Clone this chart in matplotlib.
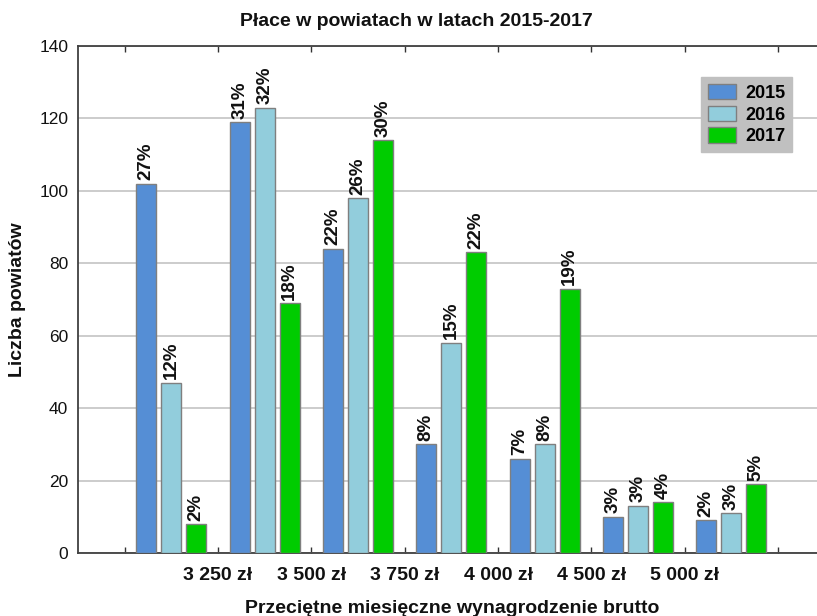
import matplotlib
matplotlib.use("Agg")
import matplotlib.pyplot as plt
import numpy as np

plt.rcParams['font.family'] = ['Liberation Sans', 'DejaVu Sans']

title = "Płace w powiatach w latach 2015-2017"
xlabel = "Przeciętne miesięczne wynagrodzenie brutto"
ylabel = "Liczba powiatów"
years = ["2015", "2016", "2017"]
tick_labels = ["", "3 250 zł", "3 500 zł", "3 750 zł", "4 000 zł", "4 500 zł", "5 000 zł", ""]
v2015 = [102, 119, 84, 30, 26, 10, 9]
v2016 = [47, 123, 98, 58, 30, 13, 11]
v2017 = [8, 69, 114, 83, 73, 14, 19]
p2015 = ["27%", "31%", "22%", "8%", "7%", "3%", "2%"]
p2016 = ["12%", "32%", "26%", "15%", "8%", "3%", "3%"]
p2017 = ["2%", "18%", "30%", "22%", "19%", "4%", "5%"]
colors = ["#558ED5", "#92CDDC", "#00CC00"]

W, H = 817, 616
fig = plt.figure(figsize=(W / 100, H / 100), dpi=100)
ax = fig.add_axes([78 / W, (H - 553) / H, 746.7 / W, 507 / H])

centers = np.arange(len(v2015)) + 0.5
bw = 20 / 93.33
off = 25 / 93.33
series = [v2015, v2016, v2017]
pcts = [p2015, p2016, p2017]
for i, (vals, labs) in enumerate(zip(series, pcts)):
    xs = centers + (i - 1) * off
    ax.bar(xs, vals, width=bw, color=colors[i], edgecolor="#7F7F7F",
           linewidth=1.0, label=years[i], zorder=3)
    for x, v, t in zip(xs, vals, labs):
        ax.annotate(t, (x, v), xytext=(0, 2.5), textcoords="offset points",
                    rotation=90, ha="center", va="bottom", fontsize=13.5,
                    fontweight="bold", color="#111111")

ax.set_xlim(-0.5, 7.5)
ax.set_ylim(0, 140)
ax.set_yticks(np.arange(0, 141, 20))
ax.set_xticks(np.arange(8))
ax.set_xticklabels(tick_labels, fontsize=14, fontweight="bold", color="#111111")
ax.tick_params(axis="x", direction="in", length=4, width=1, top=True, pad=10,
               color="#333333")
ax.tick_params(axis="y", length=0, pad=7, labelsize=12.5, labelcolor="#111111")
ax.grid(axis="y", color="#C8C8C8", linewidth=1.3, zorder=0)
ax.set_axisbelow(True)
for s in ["left", "bottom", "top"]:
    ax.spines[s].set_color("#404040")
    ax.spines[s].set_linewidth(1.3)
ax.spines["right"].set_visible(False)

fig.text(416 / W, 1 - 22 / H, title, ha="center", va="center", fontsize=14,
         fontweight="bold", color="#111111")
fig.text(452 / W, 1 - 613 / H, xlabel, ha="center", va="baseline", fontsize=14,
         fontweight="bold", color="#111111")
fig.text(18 / W, 1 - 300 / H, ylabel, ha="center", va="center", rotation=90,
         fontsize=14, fontweight="bold", color="#111111")

ax.legend(loc="upper left", bbox_to_anchor=(700.7 / W, 1 - 76.7 / H),
          bbox_transform=fig.transFigure,
          prop={"weight": "bold", "size": 13}, frameon=True, fancybox=False,
          framealpha=1, facecolor="#C0C0C0", edgecolor="#C0C0C0",
          handlelength=1.55, handleheight=0.95, labelspacing=0.2,
          handletextpad=0.5, borderpad=0.4, borderaxespad=0)

fig.savefig("out.png", dpi=100)
